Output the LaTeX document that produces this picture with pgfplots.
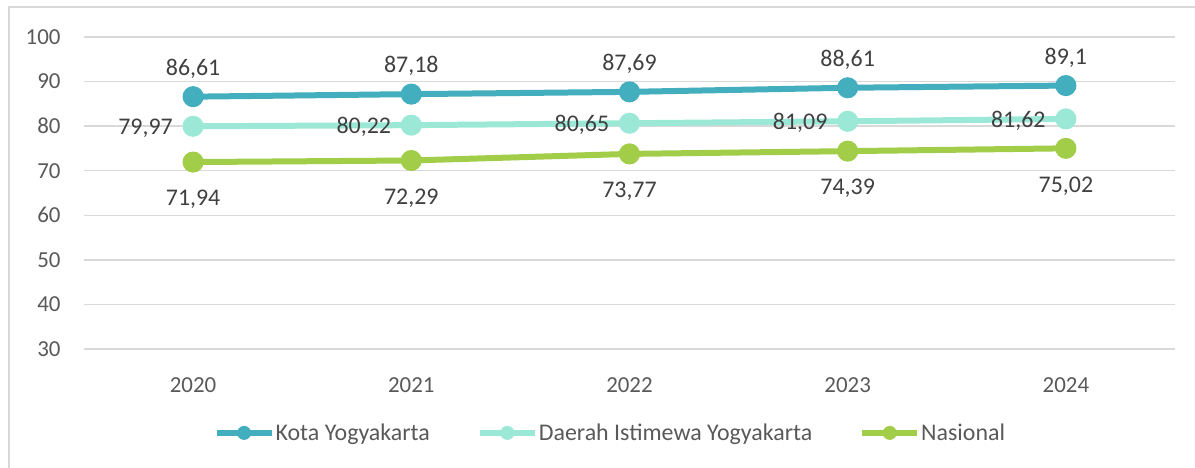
\documentclass[border=0pt]{standalone}
\usepackage{pgfplots}
\pgfplotsset{compat=1.18}
\usepackage{fontspec}
\setmainfont{Carlito}
\definecolor{cKota}{RGB}{66,174,190}
\definecolor{cDIY}{RGB}{155,232,214}
\definecolor{cNas}{RGB}{161,205,72}
\definecolor{cGrid}{RGB}{217,217,217}
\definecolor{cTick}{RGB}{89,89,89}
\definecolor{cLab}{RGB}{64,64,64}
\begin{document}
\begin{tikzpicture}[x=1bp,y=1bp]
\path[use as bounding box] (0,0) rectangle (1195,468);
\draw[cGrid, line width=1.5bp] (9,-10) -- (9,461) -- (1200,461);
\begin{axis}[
  at={(84bp,119bp)}, anchor=south west,
  scale only axis, width=1091bp, height=312bp,
  xmin=-0.5, xmax=4.5, ymin=30, ymax=100,
  ytick={30,40,...,100},
  xtick={0,1,2,3,4},
  xticklabels={2020,2021,2022,2023,2024},
  axis line style={draw=none},
  major tick length=0pt,
  ymajorgrids, grid style={cGrid, line width=1.5bp},
  font=\fontsize{24}{28}\selectfont,
  tick label style={text=cTick, font=\fontsize{23}{27}\selectfont},
  /pgf/number format/assume math mode=true,
  yticklabel style={xshift=-20bp},
  xticklabel style={yshift=-25bp},
  clip=false,
  every axis plot/.append style={line width=6bp, mark=*, mark size=7.5bp, mark options={solid, draw=none}},
  nodes near coords={\pgfplotspointmeta},
  point meta=explicit symbolic,
  every node near coord/.append style={text=cLab, font=\fontsize{24}{28}\selectfont},
  legend columns=3,
  legend style={draw=none, fill=none, at={(0.482,-0.269)}, anchor=center,
    /tikz/every even column/.append style={column sep=46bp},
    nodes={inner xsep=1bp, text=cTick, font=\fontsize{24}{28}\selectfont}},
  legend image code/.code={
    \draw[#1, line width=6bp] (0bp,0bp) -- (55bp,0bp);
    \fill[#1, draw=none] (27.5bp,0bp) circle (7bp);
  },
]
\addplot[color=cKota, every node near coord/.append style={anchor=south, yshift=12bp}]
  coordinates {(0,86.61) [86,61] (1,87.18) [87,18] (2,87.69) [87,69] (3,88.61) [88,61] (4,89.1) [89,1]};
\addlegendentry{Kota Yogyakarta}
\addplot[color=cDIY, every node near coord/.append style={anchor=east, xshift=-14bp, yshift=-2bp}]
  coordinates {(0,79.97) [79,97] (1,80.22) [80,22] (2,80.65) [80,65] (3,81.09) [81,09] (4,81.62) [81,62]};
\addlegendentry{Daerah Istimewa Yogyakarta}
\addplot[color=cNas, every node near coord/.append style={anchor=north, yshift=-22bp}]
  coordinates {(0,71.94) [71,94] (1,72.29) [72,29] (2,73.77) [73,77] (3,74.39) [74,39] (4,75.02) [75,02]};
\addlegendentry{Nasional}
\end{axis}
\end{tikzpicture}
\end{document}
